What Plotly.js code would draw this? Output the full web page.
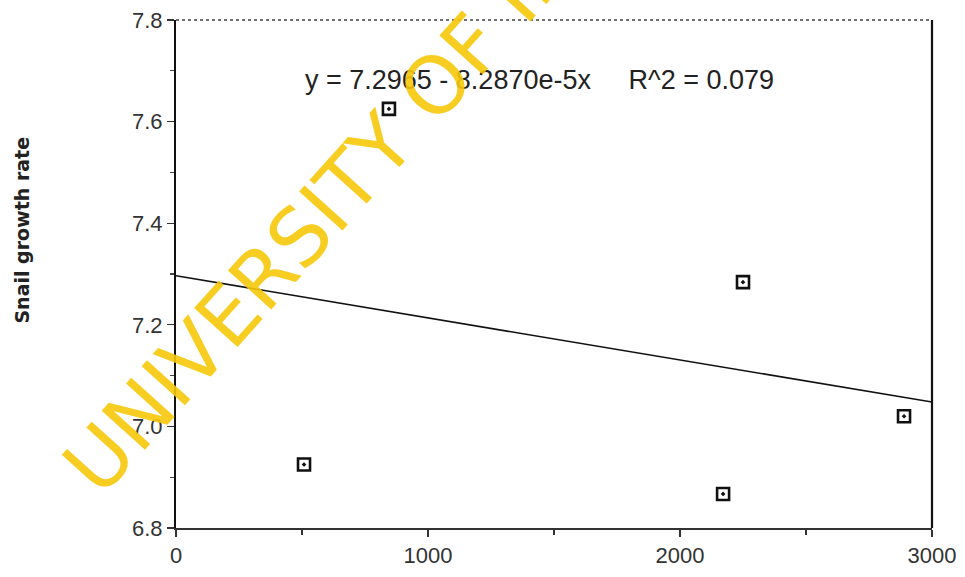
<!DOCTYPE html>
<html>
<head>
<meta charset="utf-8">
<script src="https://cdn.plot.ly/plotly-3.0.1.min.js"></script>
<style>html,body{margin:0;padding:0;background:#fff;}#chart{width:965px;height:577px;}</style>
</head>
<body>
<div id="chart"></div>
<script>
// Data
const pointX = [508, 845, 2250, 2171, 2889];
const pointY = [6.925, 7.625, 7.284, 6.867, 7.020];
const fitIntercept = 7.2965;
const fitSlope = -8.2870e-5;
const fitRange = [0, 3000];
const xTickVals = [0, 1000, 2000, 3000];
const xTickText = ['0', '1000', '2000', '3000'];
const yTickVals = [6.8, 7.0, 7.2, 7.4, 7.6, 7.8];
const yTickText = ['6.8', '7.0', '7.2', '7.4', '7.6', '7.8'];
const equationText = 'y = 7.2965 - 8.2870e-5x     R^2 = 0.079';
const yTitle = 'Snail growth rate';
const watermark = 'UNIVERSITY OF IBADAN';

const fitX = fitRange.slice();
const fitY = fitRange.map(v => fitIntercept + fitSlope * v);

const traces = [
  {x: fitX, y: fitY, mode: 'lines', line: {color: '#111', width: 1.6}, hoverinfo: 'skip', showlegend: false},
  {x: pointX, y: pointY, mode: 'markers', showlegend: false,
   marker: {symbol: 'square-open-dot', size: 12, color: '#111', line: {color: '#111', width: 2.6}}}
];

const tickFont = {family: 'Liberation Sans, Arial, sans-serif', size: 22, color: '#333'};

const layout = {
  width: 965, height: 577,
  margin: {l: 176, r: 33, t: 20, b: 49},
  paper_bgcolor: '#fff', plot_bgcolor: '#fff',
  showlegend: false,
  xaxis: {
    range: [0, 3000], tickvals: xTickVals, ticktext: xTickText,
    showgrid: false, zeroline: false, showline: true, linecolor: '#333', linewidth: 1.5,
    ticks: 'outside', ticklen: 7, tickcolor: '#333', tickwidth: 1.2,
    minor: {dtick: 500, ticks: 'outside', ticklen: 5, tickcolor: '#333'},
    tickfont: tickFont
  },
  yaxis: {
    range: [6.8, 7.8], tickvals: yTickVals, ticktext: yTickText,
    showgrid: false, zeroline: false, showline: true, linecolor: '#111', linewidth: 2,
    ticks: 'outside', ticklen: 7, tickcolor: '#333', tickwidth: 1.2,
    minor: {dtick: 0.1, ticks: 'outside', ticklen: 4, tickcolor: '#444'},
    tickfont: tickFont
  },
  shapes: [
    {type: 'line', xref: 'paper', yref: 'paper', x0: 0, x1: 1, y0: 1, y1: 1,
     line: {color: '#444', width: 1.3, dash: 'dot'}},
    {type: 'line', xref: 'paper', yref: 'paper', x0: 1, x1: 1, y0: 0, y1: 1,
     line: {color: '#111', width: 2.2}}
  ],
  annotations: [
    {text: equationText, xref: 'x', yref: 'y', x: 1444, y: 7.682, showarrow: false,
     xanchor: 'center', yanchor: 'middle',
     font: {family: 'Liberation Sans, Arial, sans-serif', size: 27, color: '#222'}},
    {text: '<b>' + yTitle + '</b>', xref: 'paper', yref: 'paper', x: -0.204, y: 0.587,
     xanchor: 'center', yanchor: 'middle',
     textangle: -90, showarrow: false,
     font: {family: 'DejaVu Sans, sans-serif', size: 19, color: '#222'}},
    {text: watermark, xref: 'paper', yref: 'paper', x: 0.290, y: 0.783,
     xanchor: 'center', yanchor: 'middle',
     textangle: -48, showarrow: false,
     font: {family: 'DejaVu Sans, sans-serif', size: 80, color: 'rgba(247,200,10,0.9)'}}
  ]
};

Plotly.newPlot('chart', traces, layout, {displayModeBar: false, staticPlot: true});
</script>
</body>
</html>
